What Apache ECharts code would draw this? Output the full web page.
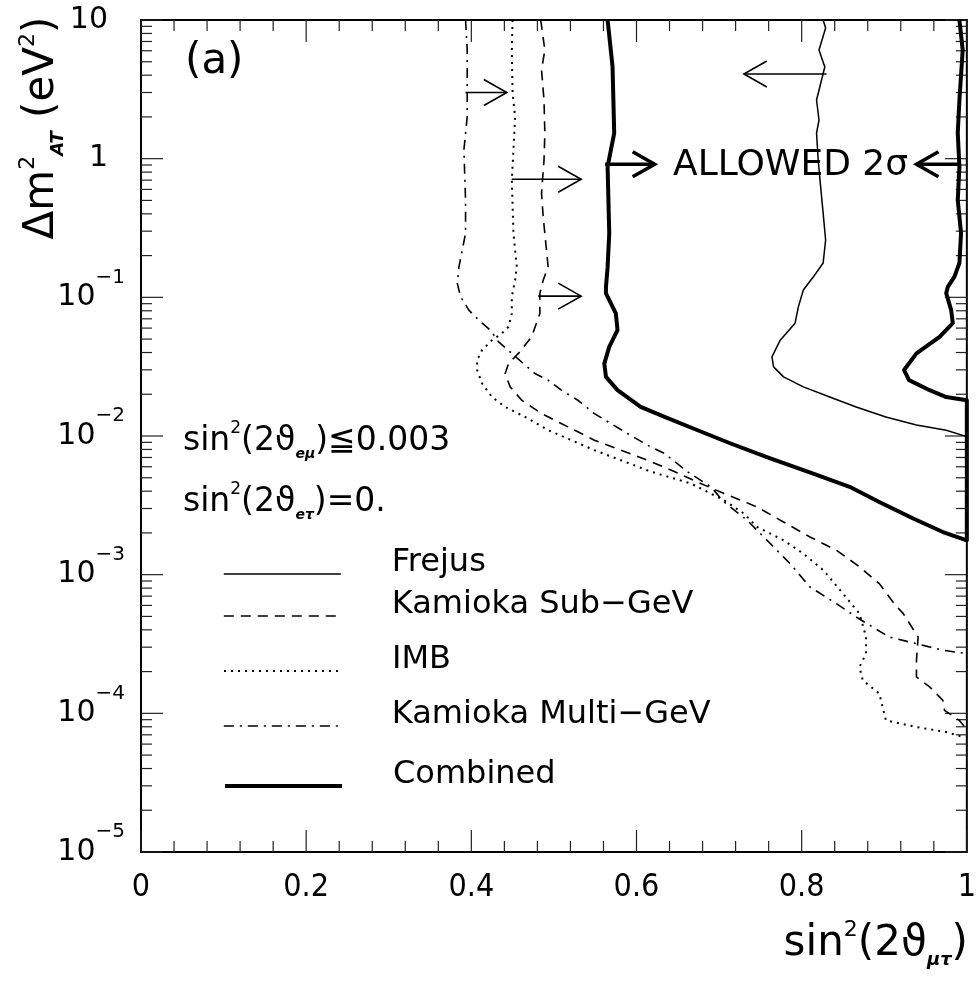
<!DOCTYPE html>
<html><head><meta charset="utf-8">
<script src="https://cdn.jsdelivr.net/npm/echarts@6/dist/echarts.min.js"></script>
<style>html,body{margin:0;padding:0;background:#fff}#c{width:979px;height:984px}</style>
</head><body><div id="c"></div>
<script>
// ---- data: [sin^2(2theta_mutau), delta m^2 (eV^2)] ----
const seriesNames = ['Frejus', 'Kamioka Sub\u2212GeV', 'IMB', 'Kamioka Multi\u2212GeV', 'Combined'];

const frejus = [[0.826,10],[0.829,8.75],[0.821,6.08],[0.828,4.58],[0.818,2.65],[0.821,1.90],[0.818,1.53],[0.820,0.977],[0.823,0.624],[0.826,0.405],[0.829,0.259],[0.826,0.177],[0.814,0.140],[0.802,0.113],[0.796,0.0854],[0.792,0.0651],[0.774,0.0491],[0.764,0.0372],[0.766,0.0315],[0.778,0.0267],[0.802,0.0226],[0.834,0.0191],[0.866,0.0162],[0.902,0.0137],[0.939,0.0120],[0.975,0.0110],[1.0,0.0099]];

const kamiokaSub = [[0.484,10],[0.489,6.08],[0.485,4.35],[0.488,2.65],[0.489,1.52],[0.488,0.977],[0.485,0.562],[0.487,0.381],[0.491,0.219],[0.493,0.166],[0.487,0.133],[0.483,0.1067],[0.483,0.0765],[0.473,0.0519],[0.457,0.0394],[0.445,0.0333],[0.441,0.0282],[0.447,0.0226],[0.461,0.0181],[0.485,0.01451],[0.517,0.01163],[0.549,0.00933],[0.581,0.00791],[0.613,0.00669],[0.634,0.00596],[0.674,0.00465],[0.706,0.00385],[0.746,0.00308],[0.778,0.00240],[0.810,0.00187],[0.842,0.00150],[0.870,0.00114],[0.894,0.000862],[0.912,0.000618],[0.923,0.000524],[0.941,0.000355],[0.939,0.000241],[0.939,0.000183],[0.955,0.000155],[0.971,0.000124],[0.973,0.000105],[0.991,0.0000889],[0.999,0.000078]];

const imb = [[0.450,10],[0.449,6.08],[0.450,2.96],[0.453,2.00],[0.451,1.153],[0.449,0.701],[0.451,0.289],[0.455,0.166],[0.453,0.133],[0.449,0.1009],[0.449,0.0765],[0.445,0.0613],[0.437,0.0549],[0.425,0.0491],[0.413,0.0416],[0.407,0.0352],[0.407,0.0299],[0.413,0.0239],[0.425,0.0191],[0.441,0.0162],[0.465,0.01374],[0.493,0.0110],[0.521,0.00933],[0.549,0.00791],[0.581,0.00669],[0.613,0.00566],[0.625,0.00536],[0.666,0.00454],[0.706,0.00344],[0.730,0.00276],[0.746,0.00221],[0.778,0.00177],[0.802,0.00142],[0.826,0.00108],[0.850,0.000731],[0.870,0.000524],[0.878,0.000355],[0.878,0.000270],[0.870,0.000216],[0.874,0.000173],[0.894,0.000139],[0.898,0.000111],[0.902,0.0000889],[0.939,0.0000796],[0.975,0.0000733],[0.996,0.0000674]];

const kamiokaMulti = [[0.393,10],[0.395,6.08],[0.395,2.00],[0.391,1.153],[0.393,0.502],[0.393,0.289],[0.385,0.166],[0.383,0.126],[0.387,0.1009],[0.397,0.0809],[0.409,0.0685],[0.423,0.0580],[0.433,0.0477],[0.449,0.0394],[0.463,0.0333],[0.477,0.0282],[0.493,0.0253],[0.509,0.0214],[0.529,0.0181],[0.549,0.01451],[0.569,0.0123],[0.589,0.01042],[0.617,0.00834],[0.634,0.00748],[0.662,0.00551],[0.690,0.00430],[0.706,0.00334],[0.734,0.00247],[0.758,0.00177],[0.786,0.00120],[0.810,0.000815],[0.842,0.000618],[0.866,0.000495],[0.906,0.000355],[0.939,0.000318],[0.971,0.000285],[0.999,0.000270]];

const combined = [[0.565,10],[0.571,4.60],[0.573,1.53],[0.565,0.875],[0.567,0.290],[0.565,0.165],[0.563,0.1186],[0.563,0.1067],[0.575,0.0765],[0.577,0.0580],[0.567,0.0439],[0.561,0.0333],[0.563,0.0267],[0.577,0.0214],[0.605,0.0162],[0.634,0.01374],[0.674,0.0110],[0.714,0.00883],[0.762,0.00689],[0.814,0.00536],[0.858,0.00430],[0.894,0.00334],[0.935,0.00254],[0.971,0.00203],[1.0,0.00177],[1.0,0.0181],[0.975,0.0191],[0.955,0.0214],[0.930,0.0253],[0.924,0.0299],[0.939,0.0394],[0.967,0.0519],[0.983,0.0651],[0.981,0.0809],[0.975,0.107],[0.977,0.119],[0.985,0.141],[0.991,0.177],[0.993,0.290],[0.989,0.502],[0.991,0.875],[0.989,1.53],[0.991,2.65],[0.995,6.08],[0.991,10]];

// arrows: [x tail, x tip, delta m^2]
const thinArrows = [[0.393,0.443,3.0],[0.449,0.533,0.71],[0.481,0.533,0.102],[0.830,0.730,4.08]];
const boldArrows = [[0.562,0.622,0.91],[0.989,0.939,0.91]];

// axis ticks
const xMajorTicks = [0,0.2,0.4,0.6,0.8,1];
const xMinorTicks = [0.04,0.08,0.12,0.16,0.24,0.28,0.32,0.36,0.44,0.48,0.52,0.56,0.64,0.68,0.72,0.76,0.84,0.88,0.92,0.96];
const yDecades = [1e-5,1e-4,1e-3,1e-2,1e-1,1,10];
const yMinorSteps = [2,3,4,5,6,7,8,9];

// ---- build ----
const FONT = 'DejaVu Sans';
const NARROW = '"Liberation Sans Narrow","DejaVu Sans Condensed","Liberation Sans"';
const xTickData = xMajorTicks.map(v => [v, 1e-5, 22]).concat(xMinorTicks.map(v => [v, 1e-5, 11]));
const yTickData = yDecades.map(d => [0, d, 22]);
yDecades.slice(0, -1).forEach(d => yMinorSteps.forEach(k => yTickData.push([0, k * d, 11])));

function renderXTick(params, api) {
  const x = api.value(0), len = api.value(2);
  const b = api.coord([x, 1e-5]), t = api.coord([x, 10]);
  const st = {stroke:'#222', lineWidth:1.2};
  return {type:'group', children:[
    {type:'line', shape:{x1:b[0], y1:b[1], x2:b[0], y2:b[1]-len}, style:st},
    {type:'line', shape:{x1:t[0], y1:t[1], x2:t[0], y2:t[1]+len}, style:st}
  ]};
}
function renderYTick(params, api) {
  const y = api.value(1), len = api.value(2);
  const l = api.coord([0, y]), r = api.coord([1, y]);
  const st = {stroke:'#222', lineWidth:1.2};
  return {type:'group', children:[
    {type:'line', shape:{x1:l[0], y1:l[1], x2:l[0]+len, y2:l[1]}, style:st},
    {type:'line', shape:{x1:r[0], y1:r[1], x2:r[0]-len, y2:r[1]}, style:st}
  ]};
}
function makeArrowRenderer(width, hl, hw) {
  return function (params, api) {
    const p1 = api.coord([api.value(0), api.value(2)]);
    const p2 = api.coord([api.value(1), api.value(2)]);
    const dir = p2[0] > p1[0] ? 1 : -1;
    const st = {stroke:'#000', lineWidth:width, fill:null};
    return {type:'group', children:[
      {type:'line', shape:{x1:p1[0], y1:p1[1], x2:p2[0], y2:p2[1]}, style:st},
      {type:'polyline', shape:{points:[[p2[0]-dir*hl, p2[1]-hw],[p2[0], p2[1]],[p2[0]-dir*hl, p2[1]+hw]]}, style:st}
    ]};
  };
}

const lineWidths = [1.5, 1.6, 2, 1.6, 4];
const lineTypes = ['solid', [10,7], [2,5], [10,6,2,6], 'solid'];
function curve(i, data) {
  return {name:seriesNames[i], type:'line', data, symbol:'none', showSymbol:false, clip:false, silent:true,
    emphasis:{disabled:true}, lineStyle:{color:'#000', width:lineWidths[i], type:lineTypes[i], cap:'butt', join:'round'},
    itemStyle:{color:'#000'}, z:3};
}

const legendLineY = [574, 616, 671, 726, 786];
const legends = seriesNames.map((n, i) => ({
  data:[n], left:223, top:legendLineY[i] - 27, orient:'horizontal', itemWidth:117, itemHeight:14, padding:0,
  selectedMode:false, itemStyle:{opacity:0, color:'rgba(0,0,0,0)', borderWidth:0},
  lineStyle:{width:lineWidths[i], type:lineTypes[i], color:'#000', cap:'butt'},
  formatter: name => '{t|' + name + '}',
  textStyle:{fontFamily:FONT, fontSize:32, color:'#000', padding:[0,0,0,46],
    rich:{t:{fontFamily:FONT, fontSize:32, lineHeight:32, color:'#000', padding:[0,0,22,0]}}}
}));

function yLabel(v) {
  const e = Math.round(Math.log10(v));
  if (e === 1) return '{p|10}';
  if (e === 0) return '{p|1}';
  return '{b|10}{s|\u2212' + (-e) + '}';
}

const txtRich = (size) => ({
  m:{fontFamily:FONT, fontSize:size, color:'#000', lineHeight:size+8, verticalAlign:'middle'},
  p:{fontFamily:FONT, fontSize:Math.round(size*0.52), color:'#000', lineHeight:Math.round(size*0.52)+2, verticalAlign:'top'},
  s:{fontFamily:FONT, fontSize:Math.round(size*0.42), fontWeight:'bold', fontStyle:'italic', color:'#000', lineHeight:Math.round(size*0.42)+2, verticalAlign:'bottom'}
});

const option = {
  animation:false,
  backgroundColor:'#fff',
  grid:{left:141, top:20, right:8, bottom:132, show:true, borderColor:'#000', borderWidth:2, backgroundColor:'transparent'},
  xAxis:{type:'value', min:0, max:1, interval:0.2,
    axisLine:{show:false}, axisTick:{show:false}, splitLine:{show:false},
    axisLabel:{margin:20, fontSize:32, fontFamily:NARROW, color:'#000', formatter:v => String(+v.toFixed(1))}},
  yAxis:{type:'log', logBase:10, min:1e-5, max:10,
    axisLine:{show:false}, axisTick:{show:false}, splitLine:{show:false},
    axisLabel:{margin:16, color:'#000', formatter:yLabel, rich:{
      p:{fontFamily:FONT, fontSize:30, lineHeight:30, color:'#000', padding:[0,17,0,0], verticalAlign:'middle'},
      b:{fontFamily:FONT, fontSize:30, lineHeight:30, color:'#000', verticalAlign:'middle'},
      s:{fontFamily:FONT, fontSize:20, lineHeight:20, color:'#000', padding:[0,0,40,0], verticalAlign:'middle'}
    }}},
  legend:legends,
  graphic:[
    {type:'text', left:185, top:41, style:{text:'(a)', font:'42px "DejaVu Sans"', fill:'#000'}},
    {type:'text', x:673, y:166, style:{text:'ALLOWED 2\u03c3', font:'36px "DejaVu Sans"', fill:'#000', verticalAlign:'middle', align:'left'}},
    {type:'text', x:183, y:441, style:{text:'{m|sin}{p|2}{m|(2\u03d1}{s|e\u03bc}{m|)\u22660.003}', rich:txtRich(33), verticalAlign:'middle', align:'left'}},
    {type:'text', x:183, y:502, style:{text:'{m|sin}{p|2}{m|(2\u03d1}{s|e\u03c4}{m|)=0.}', rich:txtRich(33), verticalAlign:'middle', align:'left'}},
    {type:'text', x:968, y:944, style:{text:'{m|sin}{p|2}{m|(2\u03d1}{s|\u03bc\u03c4}{m|)}', rich:txtRich(42), verticalAlign:'middle', align:'right'}},
    {type:'text', x:42, y:128, rotation:Math.PI/2, style:{text:'{m|\u0394m}{p|2}{s|AT}{m| (eV}{p|2}{m|)}', rich:txtRich(42), verticalAlign:'middle', align:'center'}}
  ],
  series:[
    curve(0, frejus),
    curve(1, kamiokaSub),
    curve(2, imb),
    curve(3, kamiokaMulti),
    curve(4, combined),
    {type:'custom', name:'xticks', data:xTickData, renderItem:renderXTick, clip:false, silent:true, z:2},
    {type:'custom', name:'yticks', data:yTickData, renderItem:renderYTick, clip:false, silent:true, z:2},
    {type:'custom', name:'arrows', data:thinArrows, renderItem:makeArrowRenderer(1.6, 23, 13), clip:false, silent:true, z:4, encode:{x:[0,1], y:2}},
    {type:'custom', name:'boldArrows', data:boldArrows, renderItem:makeArrowRenderer(3.5, 22, 12.5), clip:false, silent:true, z:4, encode:{x:[0,1], y:2}}
  ]
};
const chart = echarts.init(document.getElementById('c'), null, {renderer:'canvas'});
chart.setOption(option);
</script></body></html>
